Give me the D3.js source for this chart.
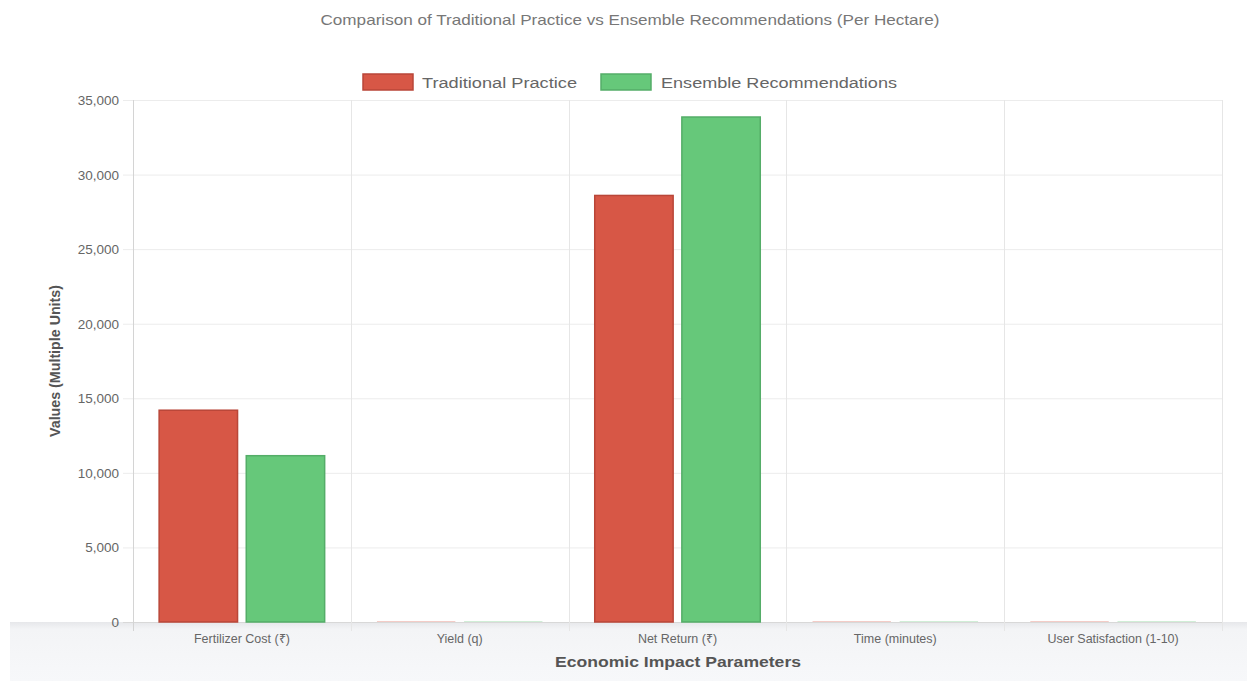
<!DOCTYPE html>
<html>
<head>
<meta charset="utf-8">
<script src="https://cdn.jsdelivr.net/npm/d3@7"></script>
<style>
  html, body { margin: 0; padding: 0; background: #ffffff; }
  svg { display: block; font-family: "Liberation Sans", Arial, Helvetica, sans-serif; }
</style>
</head>
<body>
<svg id="chart" width="1247" height="681"></svg>
<script>
// Economic comparison per hectare
const categories = ["Fertilizer Cost (₹)", "Yield (q)", "Net Return (₹)", "Time (minutes)", "User Satisfaction (1-10)"];
const seriesNames = ["Traditional Practice", "Ensemble Recommendations"];
const traditional = [14200, 42, 28600, 45, 6.2];
const ensemble = [11150, 48, 33860, 5, 8.7];
const yTicks = [0, 5000, 10000, 15000, 20000, 25000, 30000, 35000];

const fills = ["#d75746", "#66c87a"];
const strokes = ["#b94638", "#54ad68"];

const svg = d3.select("#chart");
const margin = { left: 133, right: 1222, top: 100, bottom: 622 };

// Footer panel under the plot
const defs = svg.append("defs");
const grad = defs.append("linearGradient").attr("id", "footShade").attr("x1", 0).attr("y1", 0).attr("x2", 0).attr("y2", 1);
grad.append("stop").attr("offset", "0").attr("stop-color", "#e6e7ea");
grad.append("stop").attr("offset", "0.12").attr("stop-color", "#f3f4f6");
grad.append("stop").attr("offset", "1").attr("stop-color", "#f7f8fa");
svg.append("rect").attr("x", 10).attr("y", 622).attr("width", 1237).attr("height", 59).attr("fill", "url(#footShade)");

const x0 = d3.scaleBand().domain(categories).range([margin.left, margin.right]).paddingInner(0).paddingOuter(0);
const y = d3.scaleLinear().domain([0, 35000]).range([margin.bottom, margin.top]);

// Horizontal grid
svg.append("g").selectAll("line").data(yTicks).join("line")
  .attr("x1", margin.left - 10).attr("x2", margin.right)
  .attr("y1", d => y(d) + 0.5).attr("y2", d => y(d) + 0.5)
  .attr("stroke", d => d === 0 ? "#d8d8d8" : "#ececec").attr("stroke-width", 1);

// Vertical grid at category boundaries
const bounds = categories.map(c => x0(c)).concat([margin.right]);
svg.append("g").selectAll("line").data(bounds).join("line")
  .attr("x1", d => Math.round(d) + 0.5).attr("x2", d => Math.round(d) + 0.5)
  .attr("y1", margin.top).attr("y2", margin.bottom + 9)
  .attr("stroke", (d, i) => i === 0 ? "#d4d4d4" : "#e6e6e6").attr("stroke-width", 1);

// Y tick labels
svg.append("g").selectAll("text").data(yTicks).join("text")
  .attr("x", 119).attr("y", d => y(d) + 5)
  .attr("text-anchor", "end").attr("font-size", 13.5).attr("fill", "#666")
  .text(d => d3.format(",")(d));

// Bars (near-zero values render as a faint sliver, border drawn only on visible bars)
const groupWidth = x0.bandwidth() * 0.8;
const slot = groupWidth / 2;
const barW = slot * 0.9;
const series = [traditional, ensemble];
series.forEach((vals, si) => {
  svg.append("g").selectAll("rect").data(categories).join("rect")
    .attr("x", (c) => x0(c) + (x0.bandwidth() - groupWidth) / 2 + si * slot + (slot - barW) / 2)
    .attr("y", (c, i) => Math.min(y(vals[i]), y(0) - 1))
    .attr("width", barW)
    .attr("height", (c, i) => Math.max(1, y(0) - y(vals[i])))
    .attr("fill", fills[si])
    .attr("fill-opacity", (c, i) => (y(0) - y(vals[i])) < 2 ? 0.3 : 1)
    .attr("stroke", (c, i) => (y(0) - y(vals[i])) < 2 ? "none" : strokes[si])
    .attr("stroke-width", 1.5);
});

// X tick labels
svg.append("g").selectAll("text").data(categories).join("text")
  .attr("x", c => x0(c) + x0.bandwidth() / 2).attr("y", 643)
  .attr("text-anchor", "middle").attr("font-size", 12.5).attr("fill", "#666")
  .text(c => c);

// Axis titles
svg.append("text").attr("x", 678).attr("y", 667).attr("text-anchor", "middle")
  .attr("font-size", 15).attr("font-weight", "bold").attr("fill", "#555")
  .attr("textLength", 246).attr("lengthAdjust", "spacingAndGlyphs")
  .text("Economic Impact Parameters");
svg.append("text").attr("transform", "translate(60,361) rotate(-90)").attr("text-anchor", "middle")
  .attr("font-size", 15).attr("font-weight", "bold").attr("fill", "#555")
  .attr("textLength", 152).attr("lengthAdjust", "spacingAndGlyphs")
  .text("Values (Multiple Units)");

// Title
svg.append("text").attr("x", 630).attr("y", 25).attr("text-anchor", "middle")
  .attr("font-size", 15).attr("fill", "#777")
  .attr("textLength", 619).attr("lengthAdjust", "spacingAndGlyphs")
  .text("Comparison of Traditional Practice vs Ensemble Recommendations (Per Hectare)");

// Legend
const legendItems = [
  { box: 363, text: 422, len: 155 },
  { box: 601, text: 661, len: 236 }
];
legendItems.forEach((it, i) => {
  svg.append("rect").attr("x", it.box).attr("y", 74).attr("width", 50).attr("height", 16)
    .attr("fill", fills[i]).attr("stroke", strokes[i]).attr("stroke-width", 1.5);
  svg.append("text").attr("x", it.text).attr("y", 87.5).attr("font-size", 15.5).attr("fill", "#666")
    .attr("textLength", it.len).attr("lengthAdjust", "spacingAndGlyphs")
    .text(seriesNames[i]);
});
</script>
</body>
</html>
